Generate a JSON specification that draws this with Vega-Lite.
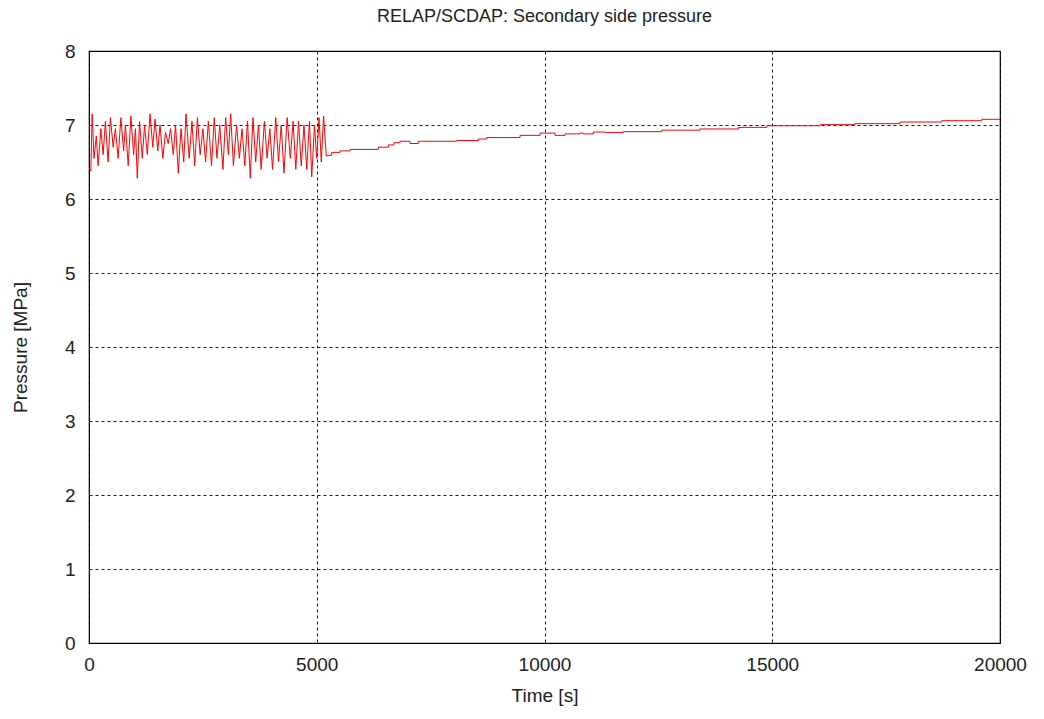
{
  "$schema": "https://vega.github.io/schema/vega-lite/v6.json",
  "width": 911,
  "height": 592,
  "autosize": {"type": "none"},
  "padding": {"left": 89, "top": 51, "right": 44, "bottom": 76},
  "background": "white",
  "title": {"text": "RELAP/SCDAP: Secondary side pressure", "font": "Liberation Sans", "fontSize": 18, "fontWeight": "normal", "color": "#222222", "offset": 16},
  "config": {
    "view": {"stroke": "black", "strokeWidth": 1.2},
    "axis": {
      "labelFont": "Liberation Sans", "labelFontSize": 19, "labelColor": "#222222",
      "titleFont": "Liberation Sans", "titleFontSize": 19, "titleFontWeight": "normal", "titleColor": "#222222",
      "grid": true, "gridColor": "black", "gridDash": [3, 3], "gridOpacity": 0.9, "gridWidth": 1,
      "domain": false, "ticks": false
    }
  },
  "data": {"values": [
    {"t": 0, "p": 6.42}, {"t": 40, "p": 6.38}, {"t": 70, "p": 7.15}, {"t": 110, "p": 6.55}, {"t": 160, "p": 6.85},
    {"t": 200, "p": 6.45}, {"t": 260, "p": 6.95}, {"t": 310, "p": 6.6}, {"t": 360, "p": 7.05}, {"t": 420, "p": 6.5},
    {"t": 470, "p": 7.1}, {"t": 530, "p": 6.7}, {"t": 580, "p": 6.95}, {"t": 640, "p": 6.55}, {"t": 700, "p": 7.1},
    {"t": 760, "p": 6.65}, {"t": 800, "p": 7.0}, {"t": 860, "p": 6.45}, {"t": 920, "p": 7.12}, {"t": 980, "p": 6.6},
    {"t": 1020, "p": 6.95}, {"t": 1060, "p": 6.28}, {"t": 1110, "p": 7.05}, {"t": 1170, "p": 6.55}, {"t": 1220, "p": 7.0},
    {"t": 1280, "p": 6.6}, {"t": 1340, "p": 7.15}, {"t": 1400, "p": 6.7}, {"t": 1450, "p": 7.08}, {"t": 1510, "p": 6.65},
    {"t": 1560, "p": 7.0}, {"t": 1620, "p": 6.55}, {"t": 1680, "p": 6.9}, {"t": 1740, "p": 6.75}, {"t": 1790, "p": 6.95},
    {"t": 1850, "p": 6.6}, {"t": 1900, "p": 7.0}, {"t": 1960, "p": 6.35}, {"t": 2020, "p": 6.95}, {"t": 2080, "p": 6.5},
    {"t": 2130, "p": 7.15}, {"t": 2200, "p": 6.55}, {"t": 2260, "p": 7.05}, {"t": 2320, "p": 6.45}, {"t": 2380, "p": 7.1},
    {"t": 2440, "p": 6.6}, {"t": 2500, "p": 6.95}, {"t": 2560, "p": 6.5}, {"t": 2620, "p": 7.05}, {"t": 2690, "p": 6.45},
    {"t": 2750, "p": 7.1}, {"t": 2810, "p": 6.55}, {"t": 2870, "p": 7.0}, {"t": 2940, "p": 6.4}, {"t": 3000, "p": 7.1},
    {"t": 3060, "p": 6.6}, {"t": 3110, "p": 7.15}, {"t": 3170, "p": 6.45}, {"t": 3240, "p": 7.0}, {"t": 3300, "p": 6.55},
    {"t": 3360, "p": 6.95}, {"t": 3420, "p": 6.45}, {"t": 3480, "p": 7.05}, {"t": 3540, "p": 6.28}, {"t": 3600, "p": 7.1},
    {"t": 3660, "p": 6.5}, {"t": 3720, "p": 7.0}, {"t": 3780, "p": 6.4}, {"t": 3850, "p": 7.05}, {"t": 3910, "p": 6.55},
    {"t": 3970, "p": 6.95}, {"t": 4030, "p": 6.4}, {"t": 4100, "p": 7.1}, {"t": 4160, "p": 6.5}, {"t": 4220, "p": 7.0},
    {"t": 4280, "p": 6.35}, {"t": 4350, "p": 7.1}, {"t": 4420, "p": 6.55}, {"t": 4480, "p": 7.05}, {"t": 4540, "p": 6.4},
    {"t": 4600, "p": 7.05}, {"t": 4660, "p": 6.45}, {"t": 4720, "p": 7.0}, {"t": 4780, "p": 6.4}, {"t": 4840, "p": 7.05},
    {"t": 4890, "p": 6.3}, {"t": 4950, "p": 7.0}, {"t": 5000, "p": 6.55}, {"t": 5050, "p": 7.1}, {"t": 5100, "p": 6.5},
    {"t": 5150, "p": 7.12}, {"t": 5210, "p": 6.58}, {"t": 5255, "p": 6.59},
    {"t": 5328, "p": 6.59}, {"t": 5328, "p": 6.63},
    {"t": 5511, "p": 6.63}, {"t": 5511, "p": 6.65},
    {"t": 5730, "p": 6.65}, {"t": 5730, "p": 6.67},
    {"t": 6353, "p": 6.67}, {"t": 6353, "p": 6.7},
    {"t": 6572, "p": 6.7}, {"t": 6572, "p": 6.73},
    {"t": 6693, "p": 6.73}, {"t": 6693, "p": 6.76},
    {"t": 6828, "p": 6.76}, {"t": 6828, "p": 6.78},
    {"t": 7048, "p": 6.78}, {"t": 7048, "p": 6.75},
    {"t": 7230, "p": 6.75}, {"t": 7230, "p": 6.78},
    {"t": 8073, "p": 6.78}, {"t": 8073, "p": 6.79},
    {"t": 8548, "p": 6.79}, {"t": 8548, "p": 6.81},
    {"t": 8731, "p": 6.81}, {"t": 8731, "p": 6.83},
    {"t": 9463, "p": 6.83}, {"t": 9463, "p": 6.86},
    {"t": 9902, "p": 6.86}, {"t": 9902, "p": 6.89},
    {"t": 10231, "p": 6.89}, {"t": 10231, "p": 6.86},
    {"t": 10451, "p": 6.86}, {"t": 10451, "p": 6.88},
    {"t": 10780, "p": 6.88}, {"t": 10780, "p": 6.89},
    {"t": 10850, "p": 6.89}, {"t": 10850, "p": 6.88},
    {"t": 11072, "p": 6.88}, {"t": 11072, "p": 6.905},
    {"t": 11329, "p": 6.905}, {"t": 11329, "p": 6.9},
    {"t": 11731, "p": 6.9}, {"t": 11731, "p": 6.91},
    {"t": 12573, "p": 6.91}, {"t": 12573, "p": 6.93},
    {"t": 13414, "p": 6.93}, {"t": 13414, "p": 6.946},
    {"t": 14255, "p": 6.946}, {"t": 14255, "p": 6.968},
    {"t": 14879, "p": 6.968}, {"t": 14879, "p": 6.99},
    {"t": 16049, "p": 6.99}, {"t": 16049, "p": 7.005},
    {"t": 16818, "p": 7.005}, {"t": 16818, "p": 7.018},
    {"t": 17805, "p": 7.018}, {"t": 17805, "p": 7.04},
    {"t": 18721, "p": 7.04}, {"t": 18721, "p": 7.058},
    {"t": 19599, "p": 7.058}, {"t": 19599, "p": 7.077},
    {"t": 20000, "p": 7.077}
  ]},
  "mark": {"type": "line", "color": "#ff0000", "strokeWidth": 1, "interpolate": "linear", "clip": true},
  "encoding": {
    "x": {"field": "t", "type": "quantitative", "title": "Time [s]", "sort": null,
      "scale": {"domain": [0, 20000], "nice": false},
      "axis": {"values": [0, 5000, 10000, 15000, 20000], "format": "d", "labelPadding": 12, "titlePadding": 12, "labelFlush": false}},
    "y": {"field": "p", "type": "quantitative", "title": "Pressure [MPa]",
      "scale": {"domain": [0, 8], "nice": false, "zero": false},
      "axis": {"values": [0, 1, 2, 3, 4, 5, 6, 7, 8], "labelPadding": 14, "titlePadding": 34}}
  }
}
